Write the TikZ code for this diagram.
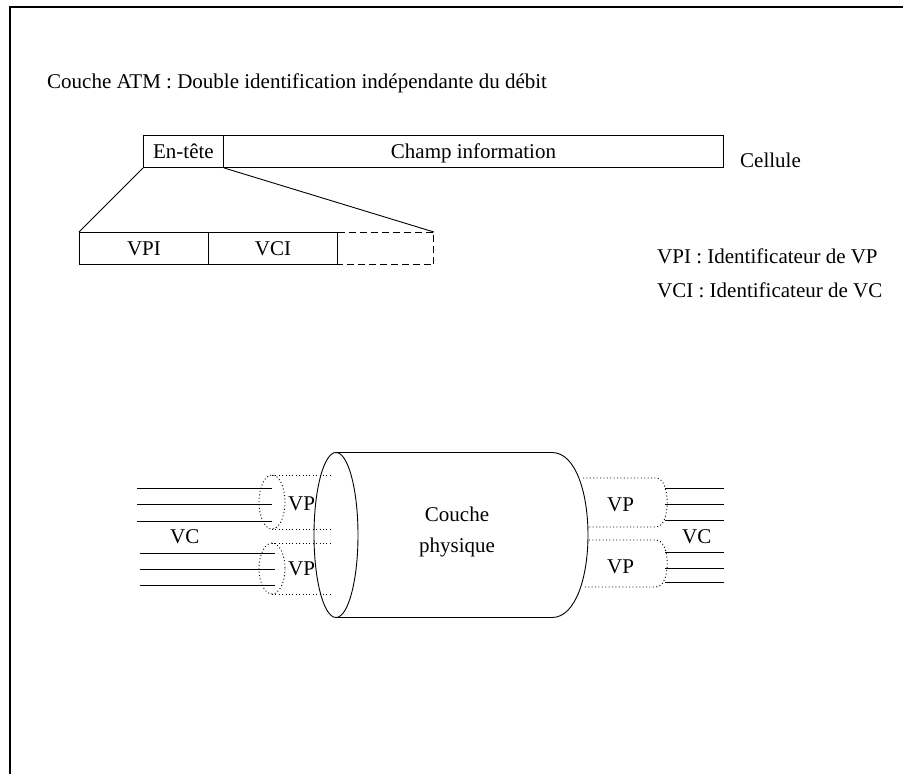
\documentclass[tikz,border=0pt]{standalone}
\usepackage{fontspec}
\setmainfont{Liberation Serif}
\begin{document}
\begin{tikzpicture}[x=1pt,y=-1pt,
  every node/.style={font=\fontsize{21}{25}\selectfont, inner sep=0pt},
  ln/.style={line width=0.9pt},
  dots/.style={line width=0.9pt, dash pattern=on 1pt off 2.4pt},
  dashbox/.style={line width=0.9pt, dash pattern=on 7pt off 4pt},
  cellbox/.style={draw, line width=0.9pt, minimum height=32pt, text height=14pt, text depth=0pt, anchor=north west},
  lbl/.style={anchor=base west},
  clbl/.style={anchor=base}]
\useasboundingbox (0,0) rectangle (903,774);
% frame
\draw[line width=2pt] (10,775) -- (10,7) -- (904,7);
% title and legend
\node[lbl] (title) at (47,88) {Couche ATM : Double identification indépendante du débit};
\node[lbl] (cellule) at (740,167) {Cellule};
\node[lbl] (vpidef) at (657,263) {VPI : Identificateur de VP};
\node[lbl] (vcidef) at (657,297) {VCI : Identificateur de VC};
% cell
\node[cellbox, minimum width=80pt] (hdr) at (143,135) {En-tête};
\node[cellbox, minimum width=500pt] (champ) at (223,135) {Champ information};
% header detail
\node[cellbox, minimum width=129pt] (vpi) at (79,232) {VPI};
\node[cellbox, minimum width=129pt] (vci) at (208,232) {VCI};
\node[cellbox, draw=none, minimum width=96pt] (ext) at (337,232) {};
\draw[dashbox] (vci.north east) -- (ext.north east) -- (ext.south east) -- (vci.south east);
\draw[ln] (hdr.south west) -- (vpi.north west);
\draw[ln] (hdr.south east) -- (ext.north east);
% cylinder (physical layer)
\draw[ln] (336,535) ellipse [x radius=22, y radius=82.5];
\draw[ln] (336,452.5) -- (552,452.5) .. controls (600,452.5) and (600,617.5) .. (552,617.5) -- (336,617.5);
\node[clbl] (couche) at (457,521) {Couche};
\node[clbl] (phys) at (457,552) {physique};
% left VP tubes
\draw[dots] (272,502) ellipse [x radius=13, y radius=27];
\draw[dots] (272,475) -- (333,475);
\draw[dots] (272,529) -- (333,529);
\draw[dots] (272,568.5) ellipse [x radius=13, y radius=25.5];
\draw[dots] (272,543) -- (333,543);
\draw[dots] (272,594) -- (333,594);
% left VC lines
\foreach \yy in {488,504,521} \draw[ln] (137,\yy) -- (272,\yy);
\foreach \yy in {553,569,585} \draw[ln] (140,\yy) -- (275,\yy);
\node[lbl] (vpl1) at (288,510) {VP};
\node[lbl] (vpl2) at (288,575) {VP};
\node[lbl] (vcl) at (170,543) {VC};
% right VP tubes
\draw[dots] (583,478) -- (656,478) .. controls (671,478) and (671,527) .. (656,527) -- (589,527);
\draw[dots] (589,540) -- (656,540) .. controls (671,540) and (671,587) .. (656,587) -- (584,587);
\foreach \yy in {488,504,520,552,568,582} \draw[ln] (665,\yy) -- (724,\yy);
\node[lbl] (vpr1) at (607,511) {VP};
\node[lbl] (vpr2) at (607,573) {VP};
\node[lbl] (vcr) at (682,543) {VC};
\end{tikzpicture}
\end{document}
